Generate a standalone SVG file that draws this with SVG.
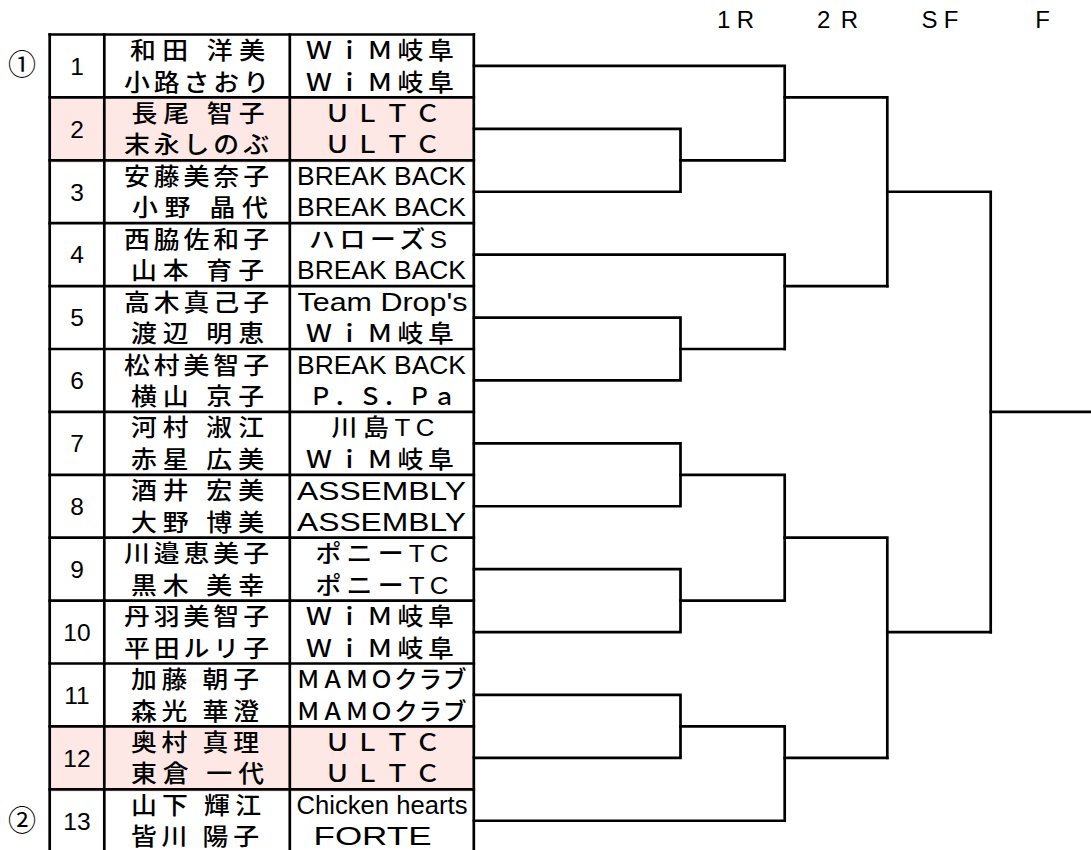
<svg xmlns="http://www.w3.org/2000/svg" width="1091" height="850" viewBox="0 0 1091 850">
<style>
.nm{font-family:"Noto Sans CJK JP",sans-serif;font-size:23.5px;font-weight:500;text-anchor:middle;fill:#000}
.tm{font-family:"Liberation Sans","Noto Sans CJK JP",sans-serif;font-size:23.5px;font-weight:500;text-anchor:middle;fill:#000}
.tl{font-family:"Liberation Sans","Noto Sans CJK JP",sans-serif;font-size:25px;text-anchor:middle;fill:#000}
.no{font-family:"Liberation Sans",sans-serif;font-size:24.5px;text-anchor:middle;fill:#000}
.hd{font-family:"Liberation Sans",sans-serif;font-size:24px;text-anchor:middle;fill:#000}
.ci{font-family:"Noto Sans CJK JP",sans-serif;font-size:28px;text-anchor:middle;fill:#000}
.pk{fill:#FDE8E6}
.ln{stroke:#000;stroke-width:2.7;fill:none;stroke-linecap:square;stroke-linejoin:miter}
</style>
<rect width="1091" height="850" fill="#fff"/>
<g id="header">
<text class="hd" x="735.5" y="28" textLength="37" lengthAdjust="spacing">1R</text>
<text class="hd" x="837.5" y="28" textLength="41" lengthAdjust="spacing">2R</text>
<text class="hd" x="940" y="28" textLength="37" lengthAdjust="spacing">SF</text>
<text class="hd" x="1042.5" y="28">F</text>
</g>
<g id="seeds">
<text class="ci" x="22" y="74.5">①</text>
<text class="ci" x="22" y="831">②</text>
</g>
<g id="entry-1">
<text class="no" x="77" y="74.75">1</text>
<text class="nm" transform="translate(197.5 59) scale(1.1 1)" textLength="122.7" lengthAdjust="spacing">和田 洋美</text>
<text class="nm" transform="translate(196.5 90.5) scale(1.1 1)" textLength="131.8" lengthAdjust="spacing">小路さおり</text>
<text class="tm" transform="translate(380 59) scale(1.1 1)" textLength="134.5" lengthAdjust="spacing">ＷｉＭ岐阜</text>
<text class="tm" transform="translate(380 90.5) scale(1.1 1)" textLength="134.5" lengthAdjust="spacing">ＷｉＭ岐阜</text>
</g>
<g id="entry-2">
<rect class="pk" x="50" y="97.4" width="424" height="65.5"/>
<text class="no" x="77" y="137.65">2</text>
<text class="nm" transform="translate(198 121.9) scale(1.1 1)" textLength="120.9" lengthAdjust="spacing">長尾 智子</text>
<text class="nm" transform="translate(196.5 153.4) scale(1.1 1)" textLength="131.8" lengthAdjust="spacing">末永しのぶ</text>
<text class="tm" transform="translate(382.5 121.9) scale(1.1 1)" textLength="105.5" lengthAdjust="spacing">ＵＬＴＣ</text>
<text class="tm" transform="translate(382.5 153.4) scale(1.1 1)" textLength="105.5" lengthAdjust="spacing">ＵＬＴＣ</text>
</g>
<g id="entry-3">
<text class="no" x="77" y="200.55">3</text>
<text class="nm" transform="translate(196.5 184.8) scale(1.1 1)" textLength="131.8" lengthAdjust="spacing">安藤美奈子</text>
<text class="nm" transform="translate(200 216.3) scale(1.1 1)" textLength="123.6" lengthAdjust="spacing">小野 晶代</text>
<text class="tl" x="381.5" y="185.3" textLength="169" lengthAdjust="spacingAndGlyphs">BREAK BACK</text>
<text class="tl" x="381.5" y="216.3" textLength="169" lengthAdjust="spacingAndGlyphs">BREAK BACK</text>
</g>
<g id="entry-4">
<text class="no" x="77" y="263.45">4</text>
<text class="nm" transform="translate(196.5 247.7) scale(1.1 1)" textLength="131.8" lengthAdjust="spacing">西脇佐和子</text>
<text class="nm" transform="translate(197.5 279.2) scale(1.1 1)" textLength="120.9" lengthAdjust="spacing">山本 育子</text>
<text class="tm" transform="translate(378 247.7) scale(1.1 1)" textLength="125.5" lengthAdjust="spacing">ハローズS</text>
<text class="tl" x="381.5" y="279.2" textLength="169" lengthAdjust="spacingAndGlyphs">BREAK BACK</text>
</g>
<g id="entry-5">
<text class="no" x="77" y="326.35">5</text>
<text class="nm" transform="translate(196.5 310.6) scale(1.1 1)" textLength="131.8" lengthAdjust="spacing">高木真己子</text>
<text class="nm" transform="translate(197.5 342.1) scale(1.1 1)" textLength="120.9" lengthAdjust="spacing">渡辺 明恵</text>
<text class="tl" x="382.5" y="311.1" textLength="170" lengthAdjust="spacingAndGlyphs">Team Drop's</text>
<text class="tm" transform="translate(380 342.1) scale(1.1 1)" textLength="134.5" lengthAdjust="spacing">ＷｉＭ岐阜</text>
</g>
<g id="entry-6">
<text class="no" x="77" y="389.25">6</text>
<text class="nm" transform="translate(196.5 373.5) scale(1.1 1)" textLength="131.8" lengthAdjust="spacing">松村美智子</text>
<text class="nm" transform="translate(197.5 405) scale(1.1 1)" textLength="120.9" lengthAdjust="spacing">横山 京子</text>
<text class="tl" x="381.5" y="374" textLength="169" lengthAdjust="spacingAndGlyphs">BREAK BACK</text>
<text class="tm" x="382.5" y="405" textLength="147" lengthAdjust="spacing">Ｐ．Ｓ．Ｐａ</text>
</g>
<g id="entry-7">
<text class="no" x="77" y="452.15">7</text>
<text class="nm" transform="translate(197.5 436.4) scale(1.1 1)" textLength="120.9" lengthAdjust="spacing">河村 淑江</text>
<text class="nm" transform="translate(197.5 467.9) scale(1.1 1)" textLength="120.9" lengthAdjust="spacing">赤星 広美</text>
<text class="tm" transform="translate(383 436.4) scale(1.1 1)" textLength="93.6" lengthAdjust="spacing">川島TC</text>
<text class="tm" transform="translate(380 467.9) scale(1.1 1)" textLength="134.5" lengthAdjust="spacing">ＷｉＭ岐阜</text>
</g>
<g id="entry-8">
<text class="no" x="77" y="515.05">8</text>
<text class="nm" transform="translate(197.5 499.3) scale(1.1 1)" textLength="120.9" lengthAdjust="spacing">酒井 宏美</text>
<text class="nm" transform="translate(197.5 530.8) scale(1.1 1)" textLength="120.9" lengthAdjust="spacing">大野 博美</text>
<text class="tl" x="381.5" y="499.8" textLength="169" lengthAdjust="spacingAndGlyphs">ASSEMBLY</text>
<text class="tl" x="381.5" y="530.8" textLength="169" lengthAdjust="spacingAndGlyphs">ASSEMBLY</text>
</g>
<g id="entry-9">
<text class="no" x="77" y="577.95">9</text>
<text class="nm" transform="translate(196.5 562.2) scale(1.1 1)" textLength="131.8" lengthAdjust="spacing">川邉恵美子</text>
<text class="nm" transform="translate(197.5 593.7) scale(1.1 1)" textLength="120.9" lengthAdjust="spacing">黒木 美幸</text>
<text class="tm" transform="translate(382 562.2) scale(1.1 1)" textLength="121" lengthAdjust="spacing">ポニーTC</text>
<text class="tm" transform="translate(382 593.7) scale(1.1 1)" textLength="121" lengthAdjust="spacing">ポニーTC</text>
</g>
<g id="entry-10">
<text class="no" x="77" y="640.85">10</text>
<text class="nm" transform="translate(196.5 625.1) scale(1.1 1)" textLength="131.8" lengthAdjust="spacing">丹羽美智子</text>
<text class="nm" transform="translate(196.5 656.6) scale(1.1 1)" textLength="131.8" lengthAdjust="spacing">平田ルリ子</text>
<text class="tm" transform="translate(380 625.1) scale(1.1 1)" textLength="134.5" lengthAdjust="spacing">ＷｉＭ岐阜</text>
<text class="tm" transform="translate(380 656.6) scale(1.1 1)" textLength="134.5" lengthAdjust="spacing">ＷｉＭ岐阜</text>
</g>
<g id="entry-11">
<text class="no" x="77" y="703.75">11</text>
<text class="nm" transform="translate(195 688) scale(1.1 1)" textLength="116.4" lengthAdjust="spacing">加藤 朝子</text>
<text class="nm" transform="translate(195 719.5) scale(1.1 1)" textLength="116.4" lengthAdjust="spacing">森光 華澄</text>
<text class="tm" x="381.5" y="688" textLength="170" lengthAdjust="spacing">ＭＡＭＯクラブ</text>
<text class="tm" x="381.5" y="719.5" textLength="170" lengthAdjust="spacing">ＭＡＭＯクラブ</text>
</g>
<g id="entry-12">
<rect class="pk" x="50" y="726.4" width="424" height="65.5"/>
<text class="no" x="77" y="766.65">12</text>
<text class="nm" transform="translate(195 750.9) scale(1.1 1)" textLength="116.4" lengthAdjust="spacing">奥村 真理</text>
<text class="nm" transform="translate(197.5 782.4) scale(1.1 1)" textLength="120.9" lengthAdjust="spacing">東倉 一代</text>
<text class="tm" transform="translate(382.5 750.9) scale(1.1 1)" textLength="105.5" lengthAdjust="spacing">ＵＬＴＣ</text>
<text class="tm" transform="translate(382.5 782.4) scale(1.1 1)" textLength="105.5" lengthAdjust="spacing">ＵＬＴＣ</text>
</g>
<g id="entry-13">
<text class="no" x="77" y="829.55">13</text>
<text class="nm" transform="translate(196 813.8) scale(1.1 1)" textLength="118.2" lengthAdjust="spacing">山下 輝江</text>
<text class="nm" transform="translate(195 845.3) scale(1.1 1)" textLength="116.4" lengthAdjust="spacing">皆川 陽子</text>
<text class="tl" x="382" y="814.3" textLength="171" lengthAdjust="spacingAndGlyphs">Chicken hearts</text>
<text class="tl" x="372.5" y="845.3" textLength="118" lengthAdjust="spacingAndGlyphs">FORTE</text>
</g>
<g id="grid" class="ln">
<path d="M49.7 34.5V850M104.3 34.5V850M289.8 34.5V850"/>
<path d="M49.7 34.5H473.8M49.7 97.4H473.8M49.7 160.3H473.8M49.7 223.2H473.8M49.7 286.1H473.8M49.7 349H473.8M49.7 411.9H473.8M49.7 474.8H473.8M49.7 537.7H473.8M49.7 600.6H473.8M49.7 663.5H473.8M49.7 726.4H473.8M49.7 789.3H473.8"/>
</g>
<g id="connectors" class="ln">
<path d="M473.8 34.5V850"/>
<path d="M474 65.95H784.7V160.3"/>
<path d="M474 128.85H680.5V191.75H474"/>
<path d="M680.5 160.3H784.7"/>
<path d="M784.7 97.4H887.3V286.1"/>
<path d="M887.3 191.75H990.7V632.05"/>
<path d="M474 254.65H784.7V349"/>
<path d="M474 317.55H680.5V380.45H474"/>
<path d="M680.5 349H784.7"/>
<path d="M784.7 286.1H887.3"/>
<path d="M990.7 411.9H1092"/>
<path d="M474 443.35H680.5V506.25H474"/>
<path d="M680.5 474.8H784.7V600.6"/>
<path d="M784.7 537.7H887.3V757.85"/>
<path d="M474 569.15H680.5V632.05H474"/>
<path d="M680.5 600.6H784.7"/>
<path d="M887.3 632.05H990.7"/>
<path d="M474 694.95H680.5V757.85H474"/>
<path d="M680.5 726.4H784.7V820.75H474"/>
<path d="M784.7 757.85H887.3"/>
</g>
</svg>
